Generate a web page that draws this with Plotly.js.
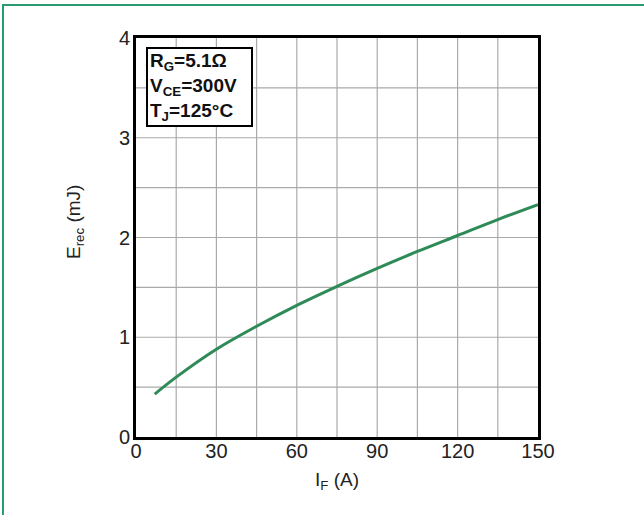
<!DOCTYPE html>
<html><head><meta charset="utf-8">
<script src="https://cdn.plot.ly/plotly-3.0.1.min.js"></script>
<style>
html,body{margin:0;padding:0;background:#fff;}
#frame{position:absolute;left:2px;top:4px;width:700px;height:600px;border-top:2px solid #2a9a70;border-left:2px solid #2a9a70;pointer-events:none;z-index:5;}
#chart{position:absolute;left:0;top:0;width:644px;height:515px;}
</style>
</head><body>
<div id="chart"></div>
<div id="frame"></div>
<script>
const currentA = [7, 15, 30, 45, 60, 75, 90, 105, 120, 135, 150];
const erecMJ = [0.43, 0.60, 0.88, 1.11, 1.32, 1.51, 1.69, 1.86, 2.02, 2.18, 2.33];
const xTicks = [0, 30, 60, 90, 120, 150];
const yTicks = [0, 1, 2, 3, 4];

const font = {family: 'Liberation Sans, Arial, sans-serif', color: '#222', size: 20};
const tfont = {family: 'Liberation Sans, Arial, sans-serif', color: '#222', size: 19};

Plotly.newPlot('chart', [{
  x: currentA, y: erecMJ, type: 'scatter', mode: 'lines',
  line: {color: '#2e8b57', width: 3, shape: 'spline'}, hoverinfo: 'none'
}], {
  width: 644, height: 515,
  margin: {l: 136, r: 106, t: 38, b: 78},
  paper_bgcolor: 'rgba(0,0,0,0)', plot_bgcolor: '#fff',
  font: font,
  showlegend: false,
  xaxis: {
    range: [0, 150], tickvals: xTicks, ticktext: xTicks.map(String),
    showgrid: false, zeroline: false,
    showline: true, linecolor: '#000', linewidth: 3, mirror: true,
    ticks: '', ticklen: 0, tickfont: font, ticklabelstandoff: -6,
    title: {text: 'I<sub>F</sub> (A)', font: tfont, standoff: 12}
  },
  yaxis: {
    range: [0, 4], tickvals: yTicks, ticktext: yTicks.map(String),
    showgrid: false, zeroline: false,
    showline: true, linecolor: '#000', linewidth: 3, mirror: true,
    ticks: '', ticklen: 0, tickfont: font, ticklabelstandoff: -1
  },
  shapes: [].concat(
    Array.from({length: 9}, (_, i) => ({type: 'line', xref: 'x', yref: 'paper', x0: 15*(i+1), x1: 15*(i+1), y0: 0, y1: 1, line: {color: '#aaa', width: 1.2}, layer: 'below'})),
    Array.from({length: 7}, (_, i) => ({type: 'line', xref: 'paper', yref: 'y', x0: 0, x1: 1, y0: 0.5*(i+1), y1: 0.5*(i+1), line: {color: '#aaa', width: 1.2}, layer: 'below'}))
  ),
  annotations: [{
    xref: 'paper', yref: 'paper', x: 0.025, y: 0.977, xanchor: 'left', yanchor: 'top',
    text: '<b>R<sub>G</sub>=5.1Ω</b><br><b>V<sub>CE</sub>=300V</b><br><b>T<sub>J</sub>=125°C</b>',
    showarrow: false, align: 'left', width: 99, height: 72,
    font: {family: 'Liberation Sans, Arial, sans-serif', size: 19, color: '#111'},
    bgcolor: '#fff', bordercolor: '#000', borderwidth: 2, borderpad: 2
  }, {
    xref: 'paper', yref: 'paper', x: -(136-75)/402, y: 1-(222-38)/399, xanchor: 'center', yanchor: 'middle',
    text: 'E<sub>rec</sub> (mJ)', textangle: -90, showarrow: false, font: tfont
  }]
}, {staticPlot: true});
</script>
</body></html>
